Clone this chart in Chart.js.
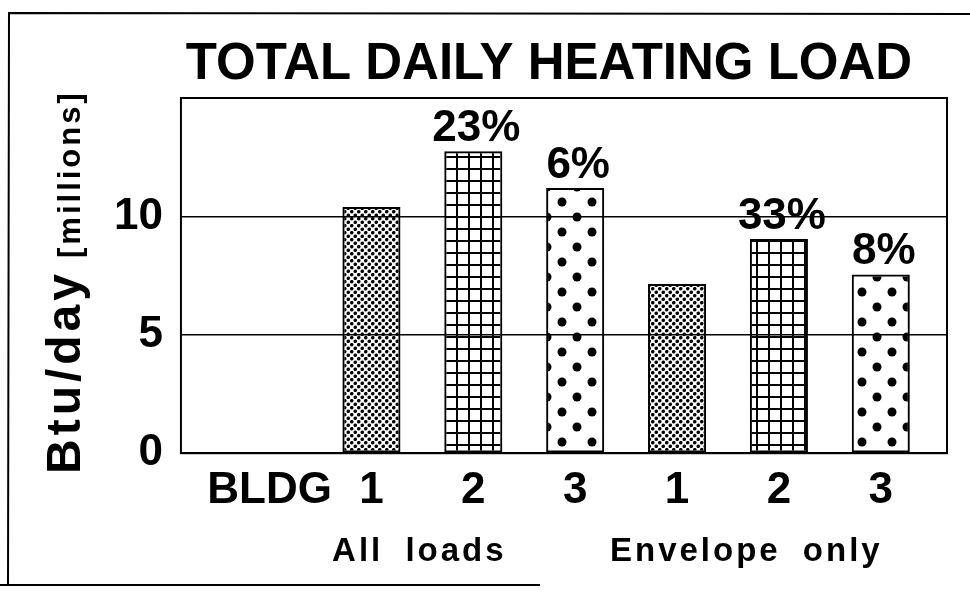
<!DOCTYPE html>
<html>
<head>
<meta charset="utf-8">
<script src="https://cdn.jsdelivr.net/npm/chart.js@4.4.0/dist/chart.umd.min.js"></script>
<style>
  html, body { margin: 0; padding: 0; background: #fff; }
</style>
</head>
<body>
<canvas id="loadChart" width="970" height="595"></canvas>
<script>
// values (millions of Btu/day)
const xLabels = ['BLDG', '1', '2', '3', '1', '2', '3'];
const loads = [null, 10.4, 12.75, 11.2, 7.15, 9.05, 7.55];
const pctLabels = ['', '', '23%', '6%', '', '33%', '8%'];
const groupLabels = ['All loads', 'Envelope only'];
const yTicks = [0, 5, 10];

const FONT = '"Liberation Sans", Arial, Helvetica, sans-serif';

function makePattern(size, drawTile) {
    const c = document.createElement('canvas');
    c.width = size;
    c.height = size;
    const g = c.getContext('2d');
    g.fillStyle = '#000';
    drawTile(g, size);
    return document.createElement('canvas').getContext('2d').createPattern(c, 'repeat');
}

// fine stipple for building 1
const finePattern = makePattern(7, (g) => {
    g.beginPath(); g.arc(1.75, 1.75, 1.8, 0, Math.PI * 2); g.fill();
    g.beginPath(); g.arc(5.25, 5.25, 1.8, 0, Math.PI * 2); g.fill();
});
// square grid for building 2
const gridPattern = makePattern(12, (g) => {
    g.fillRect(0, 0, 2, 12);
    g.fillRect(0, 0, 12, 2);
});
// big dots for building 3
const dotPattern = makePattern(30, (g) => {
    g.beginPath(); g.arc(7, 7, 4.5, 0, Math.PI * 2); g.fill();
    g.beginPath(); g.arc(22, 22, 4.5, 0, Math.PI * 2); g.fill();
});
const patterns = { '1': finePattern, '2': gridPattern, '3': dotPattern };

const decor = {
    id: 'decor',
    beforeDraw(chart) {
        const ctx = chart.ctx;
        ctx.save();
        ctx.fillStyle = '#fff';
        ctx.fillRect(0, 0, chart.width, chart.height);
        ctx.restore();
    },
    afterDatasetsDraw(chart) {
        const ctx = chart.ctx;
        const area = chart.chartArea;
        ctx.save();
        ctx.strokeStyle = '#000';
        ctx.lineWidth = 2;
        ctx.strokeRect(area.left, area.top, area.right - area.left, area.bottom - area.top);

        // percent labels above bars
        ctx.fillStyle = '#000';
        ctx.font = 'bold 44px ' + FONT;
        ctx.textAlign = 'center';
        ctx.textBaseline = 'alphabetic';
        const meta = chart.getDatasetMeta(0);
        meta.data.forEach((bar, i) => {
            if (pctLabels[i]) ctx.fillText(pctLabels[i], bar.x + 3, bar.y - 10);
        });
        ctx.restore();
    },
    afterDraw(chart) {
        const ctx = chart.ctx;
        const x = chart.scales.x;
        ctx.save();
        ctx.fillStyle = '#000';
        ctx.strokeStyle = '#000';

        // outer frame of the figure
        ctx.lineWidth = 2;
        ctx.beginPath();
        ctx.moveTo(970, 14);
        ctx.lineTo(9, 13);
        ctx.lineTo(8, 585);
        ctx.moveTo(0, 585);
        ctx.lineTo(540, 585);
        ctx.stroke();

        // title
        ctx.font = 'bold 51px ' + FONT;
        ctx.textAlign = 'center';
        ctx.textBaseline = 'alphabetic';
        ctx.fillText('TOTAL DAILY HEATING LOAD', 549, 79);

        // group labels under the building numbers
        ctx.font = 'bold 33px ' + FONT;
        ctx.letterSpacing = '3px';
        ctx.wordSpacing = '10px';
        ctx.fillText(groupLabels[0], x.getPixelForValue(1.47), 561);
        ctx.fillText(groupLabels[1], x.getPixelForValue(4.68), 561);
        ctx.wordSpacing = '0px';

        // rotated y axis title, two sizes
        ctx.translate(80, 0);
        ctx.rotate(-Math.PI / 2);
        ctx.textAlign = 'left';
        ctx.font = 'bold 48px ' + FONT;
        ctx.letterSpacing = '4px';
        const main = 'Btu/day';
        ctx.fillText(main, -474, 0);
        const w = ctx.measureText(main).width;
        ctx.font = 'bold 31px ' + FONT;
        ctx.letterSpacing = '3px';
        ctx.fillText('[millions]', -474 + w + 12, 0);
        ctx.restore();
    }
};

new Chart(document.getElementById('loadChart'), {
    type: 'bar',
    data: {
        datasets: [{
            data: loads.map((v, i) => ({ x: i, y: v })),
            backgroundColor: xLabels.map(l => patterns[l] || 'rgba(0,0,0,0)'),
            borderColor: '#000',
            borderWidth: 2,
            borderSkipped: false,
            categoryPercentage: 1,
            barPercentage: 0.57
        }]
    },
    options: {
        responsive: false,
        animation: false,
        devicePixelRatio: 1,
        layout: {
            padding: { left: 96, top: 98, right: 23, bottom: 67 }
        },
        plugins: {
            legend: { display: false },
            tooltip: { enabled: false }
        },
        scales: {
            x: {
                type: 'linear',
                offset: false,
                min: -0.87,
                max: 6.65,
                afterBuildTicks: (scale) => {
                    scale.ticks = xLabels.map((l, i) => ({ value: i }));
                },
                afterFit: (scale) => {
                    scale.paddingLeft = 0;
                    scale.paddingRight = 0;
                },
                grid: { display: false, drawTicks: false },
                border: { display: false },
                ticks: {
                    autoSkip: false,
                    maxRotation: 0,
                    padding: 11,
                    color: '#000',
                    font: { family: FONT, size: 44, weight: 'bold' },
                    callback: (v) => xLabels[v]
                }
            },
            y: {
                min: 0,
                max: 15,
                afterBuildTicks: (scale) => {
                    scale.ticks = yTicks.concat([15]).map(v => ({ value: v }));
                },
                grid: { color: '#000', lineWidth: 1.5, drawTicks: false },
                border: { display: false },
                ticks: {
                    padding: 18,
                    color: '#000',
                    font: { family: FONT, size: 44, weight: 'bold' },
                    callback: (v) => yTicks.includes(v) ? String(v) : ''
                }
            }
        }
    },
    plugins: [decor]
});
</script>
</body>
</html>
